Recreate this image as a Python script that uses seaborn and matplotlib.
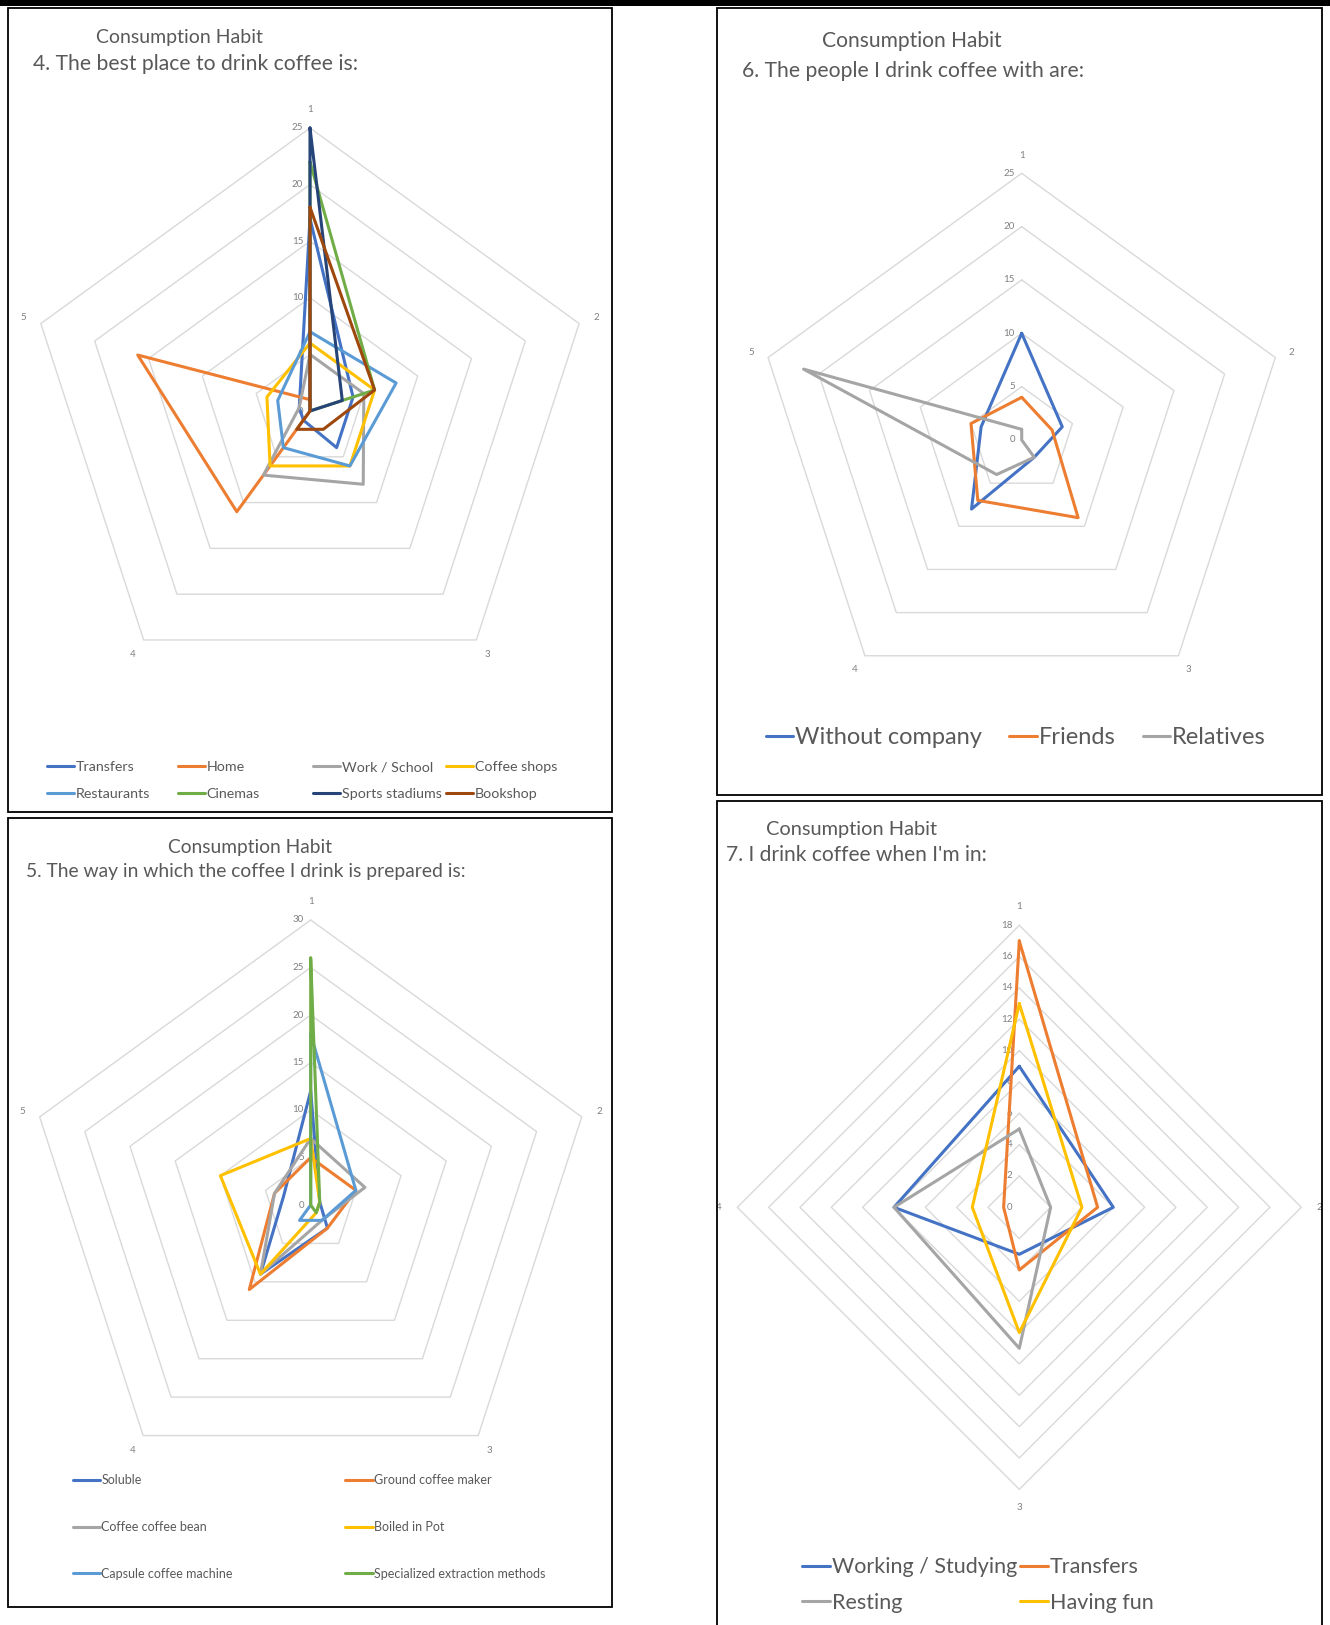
import numpy as np
import pandas as pd
import matplotlib
matplotlib.use("Agg")
import matplotlib.pyplot as plt
import seaborn as sns
from matplotlib.lines import Line2D
from matplotlib.patches import Rectangle

sns.set_style("white")
plt.rcParams["font.family"] = ["Lato", "DejaVu Sans"]

# ---- data ----
place_names = ["Transfers", "Home", "Work / School", "Coffee shops",
               "Restaurants", "Cinemas", "Sports stadiums", "Bookshop"]
place_values = [
    [17, 4, 4, 1, 1],
    [1, 0, 0, 11, 16],
    [5, 5, 8, 7, 1],
    [6, 6, 6, 6, 4],
    [7, 8, 6, 4, 3],
    [22, 6, 0, 0, 0],
    [25, 3, 0, 0, 0],
    [18, 6, 2, 2, 0],
]
place_colors = ["#4472C4", "#ED7D31", "#A5A5A5", "#FFC000",
                "#5B9BD5", "#70AD47", "#264478", "#9E480E"]

company_names = ["Without company", "Friends", "Relatives"]
company_values = [
    [10, 4, 2, 8, 4],
    [4, 3, 9, 7, 5],
    [1, 0, 2, 4, 21.5],
]
company_colors = ["#4472C4", "#ED7D31", "#A5A5A5"]

prep_names = ["Soluble", "Ground coffee maker", "Coffee coffee bean",
              "Boiled in Pot", "Capsule coffee machine", "Specialized extraction methods"]
prep_values = [
    [12, 1, 3, 9, 3],
    [5, 5, 3, 11, 4],
    [7, 6, 2, 9, 4],
    [7, 1, 1, 9, 10],
    [18, 5, 2, 2, 0],
    [26, 1, 1, 0, 0],
]
prep_colors = ["#4472C4", "#ED7D31", "#A5A5A5", "#FFC000", "#5B9BD5", "#70AD47"]

moment_names = ["Working / Studying", "Transfers", "Resting", "Having fun"]
moment_values = [
    [9, 6, 3, 8],
    [17, 5, 4, 1],
    [5, 2, 9, 8],
    [13, 4, 8, 3],
]
moment_colors = ["#4472C4", "#ED7D31", "#A5A5A5", "#FFC000"]

W, H = 1330, 1625
fig = plt.figure(figsize=(W / 100, H / 100), dpi=100)


def fx(x):
    return x / W


def fy(y):
    return 1 - y / H


def radar(cx, cy, rpx, vmax, step, names, values, colors):
    ax = fig.add_axes([fx(cx - rpx), fy(cy + rpx), 2 * rpx / W, 2 * rpx / H],
                      projection="polar")
    ax.set_theta_offset(np.pi / 2)
    ax.set_theta_direction(-1)
    n = len(values[0])
    theta = np.linspace(0, 2 * np.pi, n + 1)

    for r in np.arange(step, vmax + step / 2, step):
        ax.plot(theta, [r] * (n + 1), color="#D9D9D9", lw=1, zorder=1)
    for r in np.arange(0, vmax + step / 2, step):
        ax.annotate(f"{r:g}", xy=(0, r), xytext=(-5, 0), textcoords="offset points",
                    ha="right", va="center", fontsize=7, color="#808080",
                    annotation_clip=False)
    for k in range(n):
        ax.text(theta[k], vmax * 1.065, str(k + 1), ha="center", va="center",
                fontsize=7, color="#808080", clip_on=False)

    rows = []
    for name, vals in zip(names, values):
        closed = list(vals) + [vals[0]]
        for t, v in zip(theta, closed):
            rows.append((name, t, v))
    df = pd.DataFrame(rows, columns=["series", "theta", "value"])
    sns.lineplot(data=df, x="theta", y="value", hue="series", hue_order=names,
                 palette=colors, sort=False, estimator=None, lw=2.2,
                 legend=False, ax=ax, zorder=3)
    for line in ax.lines:
        line.set_clip_on(False)
    ax.set_ylim(0, vmax)
    ax.set_xlim(0, 2 * np.pi)
    ax.axis("off")
    return ax


def legend(names, colors, order, ncol, cx, cy, size, hl, cs, ls):
    handles = [Line2D([], [], color=colors[i], lw=2.2) for i in order]
    labels = [names[i] for i in order]
    fig.legend(handles, labels, ncol=ncol, loc="center",
               bbox_to_anchor=(fx(cx), fy(cy)), frameon=False, fontsize=size,
               handlelength=hl, handletextpad=0.1, columnspacing=cs,
               labelspacing=ls, labelcolor="#595959")


def grid_legend(names, colors, xs, ys, size, hl):
    # one entry per slot, row by row, like the spreadsheet legend
    for i, (name, color) in enumerate(zip(names, colors)):
        x = xs[i % len(xs)]
        y = ys[i // len(xs)]
        fig.legend([Line2D([], [], color=color, lw=2.2)], [name], loc="center left",
                   bbox_to_anchor=(fx(x), fy(y)), frameon=False, fontsize=size,
                   handlelength=hl, handletextpad=0.1, borderpad=0,
                   borderaxespad=0, labelcolor="#595959")


def title(x1, y1, s1, x2, y2, s2, text):
    fig.text(fx(x1), fy(y1), "Consumption Habit", fontsize=s1, color="#595959",
             ha="left", va="center")
    fig.text(fx(x2), fy(y2), text, fontsize=s2, color="#595959",
             ha="left", va="center")


# panel frames
for x0, y0, x1, y1 in [(8, 8, 612, 812), (717, 8, 1322, 795),
                       (8, 818, 612, 1607), (717, 801, 1322, 1640)]:
    fig.patches.append(Rectangle((fx(x0), fy(y1)), (x1 - x0) / W, (y1 - y0) / H,
                                 transform=fig.transFigure, fill=False,
                                 ec="black", lw=1.3))
fig.patches.append(Rectangle((0, fy(6)), 1, 6 / H, transform=fig.transFigure,
                             fc="black", ec="none"))

# panel 4 (top-left)
radar(310, 411, 283, 25, 5, place_names, place_values, place_colors)
title(96, 38, 14.0, 33, 64, 15.2, "4. The best place to drink coffee is:")
grid_legend(place_names, place_colors, [47, 178, 313, 446], [767, 794], 10.3, 1.9)

# panel 6 (top-right)
radar(1021.7, 440, 266.7, 25, 5, company_names, company_values, company_colors)
title(822, 41, 15.1, 742, 71, 15.2, "6. The people I drink coffee with are:")
legend(company_names, company_colors, [0, 1, 2], 3, 1016, 738, 17, 1.15, 1.15, 0.5)

# panel 5 (bottom-left)
radar(310.7, 1205, 285, 30, 5, prep_names, prep_values, prep_colors)
title(168, 847, 13.8, 26, 872, 13.9, "5. The way in which the coffee I drink is prepared is:")
legend(prep_names, prep_colors, [0, 2, 4, 1, 3, 5], 2, 309, 1527, 9, 2.2, 9, 2.76)

# panel 7 (bottom-right)
radar(1019.3, 1207.3, 282, 18, 2, moment_names, moment_values, moment_colors)
title(766, 829, 14.4, 726, 855, 15.1, "7. I drink coffee when I'm in:")
legend(moment_names, moment_colors, [0, 2, 1, 3], 2, 978, 1585, 15.5, 1.3, 0.1, 0.72)

fig.savefig("out.png", dpi=100)
